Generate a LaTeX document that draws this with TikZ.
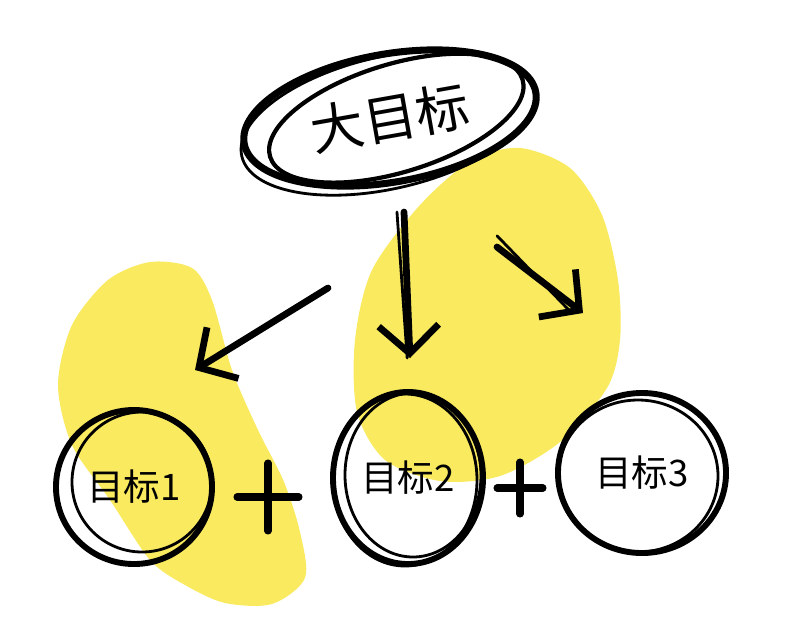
\documentclass[tikz,border=0pt]{standalone}
\usepackage{fontspec}
\newfontfamily\cjk{Noto Sans CJK SC}
\usetikzlibrary{arrows.meta,shapes.geometric}
\definecolor{blob}{RGB}{249,234,96}

\begin{document}
\begin{tikzpicture}[x=0.025cm,y=-0.025cm]
\tikzstyle{ink} = [draw=black, line width=4.2pt, line cap=round]
\tikzstyle{sketch} = [draw=black, line width=2pt, line cap=round]
\tikzstyle{goal} = [ellipse, ink, inner sep=0pt, font=\cjk\fontsize{26}{26}\selectfont]
\tikzstyle{pointer} = [ink, line width=4.8pt, -{Straight Barb[length=7mm,width=15mm]}]
\tikzstyle{plus} = [ink, line width=5pt]
\useasboundingbox (0,0) rectangle (796,634);
% yellow blobs
\fill[blob] plot[smooth cycle] coordinates {(520,148) (570,168) (602,215) (618,280) (620,340) (607,388) (560,442) (500,476) (440,481) (385,460) (357,412) (355,340) (372,270) (420,205) (472,160)};
\fill[blob] plot[smooth cycle] coordinates {(150,262) (192,268) (212,300) (232,370) (258,430) (284,482) (300,532) (305,578) (272,604) (225,603) (185,585) (150,560) (110,500) (72,445) (58,385) (72,325) (108,280)};
% goals
\node [goal, line width=5pt, minimum width=7.4cm, minimum height=3.2cm, rotate=10, font=\cjk\fontsize{38}{38}\selectfont] (big) at (390,118) {大目标};
\node [goal, minimum width=3.9cm, minimum height=3.85cm] (g1) at (134,487) {目标1};
\node [goal, minimum width=3.75cm, minimum height=4.3cm] (g2) at (408,478) {目标2};
\node [goal, minimum width=4.2cm, minimum height=4cm] (g3) at (642,473) {目标3};
% extra strokes
\draw [sketch, line width=3pt, rotate around={17:(big.center)}] ([shift={(6,2)}]big.center) ellipse (132 and 54);
\draw [sketch, rotate around={13:(big.center)}] ([shift={(-3,4)}]big.center) ellipse (150 and 66);
\draw [sketch] ([shift={(8,-5)}]g1.center) ellipse (70 and 70);
\draw [sketch] ([shift={(5,-3)}]g2.center) ellipse (68 and 82);
\draw [sketch] ([shift={(-3,2)}]g2.center) ellipse (72 and 86);
\draw [sketch] ([shift={(-4,3)}]g3.center) ellipse (80 and 76);
% arrows
\coordinate (s1) at (328,288);
\coordinate (t1) at (195,370);
\coordinate (s2) at (404,212);
\coordinate (t2) at (410,358);
\coordinate (s3) at (497,247);
\coordinate (t3) at (583,313);
\path (s1) edge [pointer] (t1);
\path (s2) edge [pointer] (t2);
\path (s3) edge [pointer] (t3);
\draw [sketch] ([xshift=-5]s2) -- ([xshift=-2]t2);
\draw [sketch] ([yshift=8]s3) -- ([xshift=-8]t3);
% plus signs
\coordinate (p1) at (268,497);
\coordinate (p2) at (520,488);
\draw [plus] (p1) ++(-31,0) -- ++(62,0) (p1) ++(0,-34) -- ++(0,68);
\draw [plus] (p2) ++(-23,0) -- ++(46,0) (p2) ++(0,-26) -- ++(0,52);
\end{tikzpicture}
\end{document}
